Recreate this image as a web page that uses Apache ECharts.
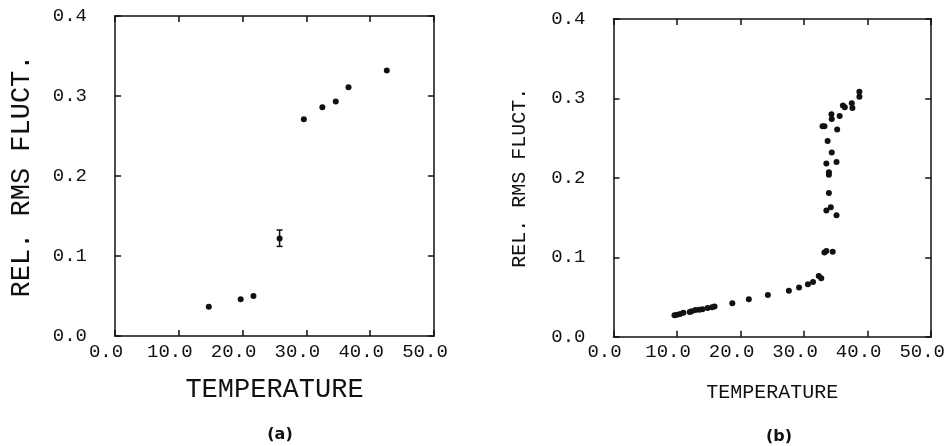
<!DOCTYPE html>
<html>
<head>
<meta charset="utf-8">
<script src="https://cdn.jsdelivr.net/npm/echarts@6/dist/echarts.min.js"></script>
<style>
  html, body { margin: 0; background: #fff; }
  #chart { width: 948px; height: 446px; }
</style>
</head>
<body>
<div id="chart"></div>
<script>
// panel (a)
const tempA = [14.7, 19.7, 21.7, 25.8, 29.6, 32.5, 34.6, 36.6, 42.6];
const rmsA = [0.0366, 0.046, 0.050, 0.122, 0.271, 0.286, 0.293, 0.311, 0.332];
// error bar on the point at 25.8
const errT = [25.8];
const errLow = [0.112];
const errHigh = [0.1325];

// panel (b)
const tempB = [9.6, 10.0, 10.5, 11.0, 12.0, 12.3, 12.9, 13.5, 14.0, 14.8, 15.5, 15.9,
  18.7, 21.3, 24.3, 27.6, 29.2, 30.6, 31.4, 32.3, 32.7,
  33.2, 33.5, 34.5, 33.5, 34.2, 35.1, 33.9, 33.9, 33.9, 33.5, 35.1, 34.35, 33.7,
  32.9, 33.2, 35.2, 34.3, 34.35, 35.6, 36.1, 36.4, 37.5, 37.6, 38.7, 38.7];
const rmsB = [0.027, 0.0275, 0.0285, 0.030, 0.031, 0.032, 0.0335, 0.034, 0.0345, 0.036, 0.037, 0.038,
  0.042, 0.047, 0.0525, 0.058, 0.062, 0.066, 0.069, 0.0765, 0.0735,
  0.106, 0.108, 0.107, 0.159, 0.163, 0.153, 0.181, 0.204, 0.207, 0.218, 0.220, 0.232, 0.2465,
  0.265, 0.265, 0.261, 0.280, 0.274, 0.278, 0.291, 0.289, 0.294, 0.288, 0.3085, 0.302];

const xMin = 0, xMax = 50, xStep = 10;
const yMin = 0, yMax = 0.4, yStep = 0.1;
const xName = "TEMPERATURE";
const yName = "REL. RMS FLUCT.";
const captions = ["(a)", "(b)"];

const ink = "#111";
const mono = "Liberation Mono";

// frame side: line + inward ticks, no labels unless given
function side(extra) {
  return Object.assign({
    type: "value",
    axisLine: { show: true, onZero: false, lineStyle: { color: ink, width: 1.5 } },
    axisTick: { show: true, inside: true, length: 6, lineStyle: { color: ink, width: 1.5 } },
    splitLine: { show: false },
    axisLabel: { show: false },
  }, extra);
}

function xAxes(gridIndex, nameSize, nameGap) {
  return [
    side({
      gridIndex, min: xMin, max: xMax, interval: xStep, position: "bottom",
      axisLabel: {
        color: ink, fontFamily: mono, fontSize: 19, margin: 6,
        padding: [0, 18, 0, 0],
        formatter: (v) => v.toFixed(1),
      },
      name: xName, nameLocation: "middle", nameGap: nameGap,
      nameTextStyle: { color: ink, fontFamily: mono, fontSize: nameSize },
    }),
    side({ gridIndex, min: xMin, max: xMax, interval: xStep, position: "top" }),
  ];
}

function yAxes(gridIndex, nameSize, nameGap) {
  return [
    side({
      gridIndex, min: yMin, max: yMax, interval: yStep, position: "left",
      axisLabel: {
        color: ink, fontFamily: mono, fontSize: 19, margin: 28,
        padding: [6, 0, 0, 0],
        formatter: (v) => v.toFixed(1),
      },
      name: yName, nameLocation: "middle", nameGap: nameGap,
      nameTextStyle: { color: ink, fontFamily: mono, fontSize: nameSize },
    }),
    side({ gridIndex, min: yMin, max: yMax, interval: yStep, position: "right" }),
  ];
}

const errData = errT.map((t, i) => [t, errLow[i], errHigh[i]]);

const option = {
  animation: false,
  backgroundColor: "#fff",
  title: [
    { text: captions[0], left: 275, top: 422, textAlign: "center",
      textStyle: { fontFamily: "DejaVu Sans", fontWeight: "bold", fontSize: 16, color: ink } },
    { text: captions[1], left: 774, top: 424, textAlign: "center",
      textStyle: { fontFamily: "DejaVu Sans", fontWeight: "bold", fontSize: 16, color: ink } },
  ],
  grid: [
    { left: 115, right: 514, top: 16, bottom: 110 },
    { left: 613.5, right: 16, top: 19, bottom: 109.3 },
  ],
  xAxis: [...xAxes(0, 27, 40), ...xAxes(1, 20, 46)],
  yAxis: [...yAxes(0, 27, 80), ...yAxes(1, 20, 84)],
  series: [
    {
      type: "scatter", xAxisIndex: 0, yAxisIndex: 0,
      symbolSize: 6, itemStyle: { color: ink, opacity: 1 },
      data: tempA.map((t, i) => [t, rmsA[i]]),
    },
    {
      type: "custom", xAxisIndex: 0, yAxisIndex: 0,
      data: errData,
      renderItem: (params, api) => {
        const x = api.value(0);
        const lo = api.coord([x, api.value(1)]);
        const hi = api.coord([x, api.value(2)]);
        const w = 3;
        const st = { stroke: ink, lineWidth: 1.5 };
        return {
          type: "group",
          children: [
            { type: "line", shape: { x1: lo[0], y1: lo[1], x2: hi[0], y2: hi[1] }, style: st },
            { type: "line", shape: { x1: hi[0] - w, y1: hi[1], x2: hi[0] + w, y2: hi[1] }, style: st },
            { type: "line", shape: { x1: lo[0] - w, y1: lo[1], x2: lo[0] + w, y2: lo[1] }, style: st },
          ],
        };
      },
    },
    {
      type: "scatter", xAxisIndex: 2, yAxisIndex: 2,
      symbolSize: 6, itemStyle: { color: ink, opacity: 1 },
      data: tempB.map((t, i) => [t, rmsB[i]]),
    },
  ],
};

const myChart = echarts.init(document.getElementById("chart"));
myChart.setOption(option);
</script>
</body>
</html>
